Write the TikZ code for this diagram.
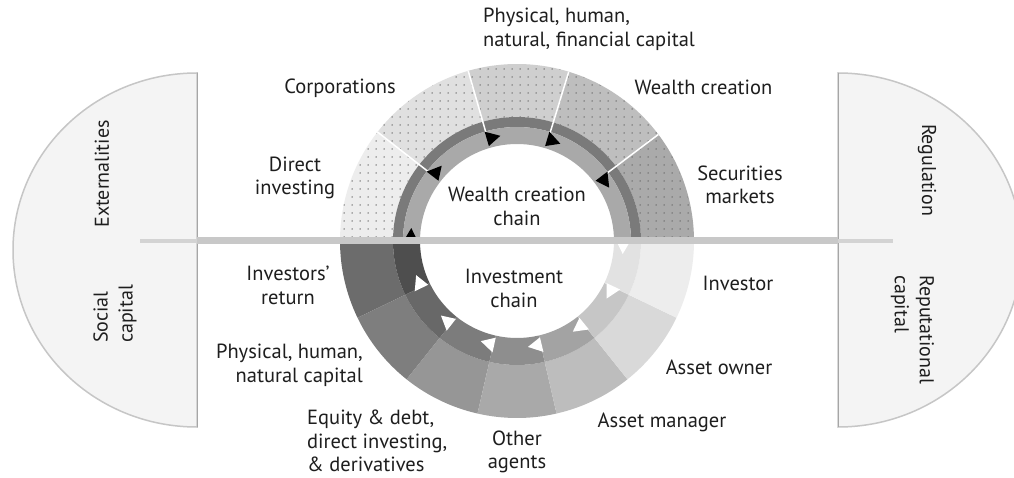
\documentclass[tikz,border=0pt]{standalone}
\usepackage{fontspec}
\setmainfont{PT Sans}
\usetikzlibrary{patterns.meta}
\definecolor{txt}{HTML}{1E1E1E}
\definecolor{sidefill}{HTML}{F4F4F4}
\definecolor{sideline}{HTML}{C6C6C6}
\definecolor{barc}{HTML}{C8C8C8}
\definecolor{darkband}{HTML}{7A7A7A}
\definecolor{lightband}{HTML}{A9A9A9}
\definecolor{uA}{HTML}{EDEDED}
\definecolor{uB}{HTML}{E0E0E0}
\definecolor{uC}{HTML}{CFCFCF}
\definecolor{uD}{HTML}{BEBEBE}
\definecolor{uE}{HTML}{AAAAAA}
\definecolor{lA}{HTML}{6C6C6C}
\definecolor{lB}{HTML}{7E7E7E}
\definecolor{lC}{HTML}{969696}
\definecolor{lD}{HTML}{A9A9A9}
\definecolor{lE}{HTML}{BDBDBD}
\definecolor{lF}{HTML}{D9D9D9}
\definecolor{lG}{HTML}{EDEDED}
\definecolor{bA}{HTML}{4E4E4E}
\definecolor{bB}{HTML}{686868}
\definecolor{bC}{HTML}{7C7C7C}
\definecolor{bD}{HTML}{8E8E8E}
\definecolor{bE}{HTML}{A3A3A3}
\definecolor{bF}{HTML}{C6C6C6}
\definecolor{bG}{HTML}{E2E2E2}
\newcommand{\ringseg}[5]{\path[#1] (#2:#5) arc[start angle=#2,end angle=#3,radius=#5] -- (#3:#4) arc[start angle=#3,end angle=#2,radius=#4] -- cycle;}
\newcommand{\ringarrow}[2]{\fill[#1] ({#2+0.5}:99) -- ({#2+0.5}:114) -- ({#2-7}:106.5) -- cycle;}
\begin{document}
\begin{tikzpicture}[x=1pt,y=1pt,
  lbl/.style={font=\fontsize{20.5}{23.5}\selectfont, text=txt, inner sep=0pt, align=center},
  slbl/.style={font=\fontsize{20}{25}\selectfont, text=txt, inner sep=0pt, align=center},
  sideshape/.style={fill=sidefill, draw=sideline, line width=1.5pt},
  dotseg/.style={fill=#1, postaction={pattern={Dots[distance=8pt,radius=0.75pt]}, pattern color=black!60}},
  plainseg/.style={fill=#1},
  sepline/.style={draw=white, line width=1.5pt}]
\useasboundingbox (0,0) rectangle (1014,477);
\fill[white] (0,0) rectangle (1014,477);

% side half-discs
\path[sideshape] (197,404) arc[start angle=90,end angle=270,x radius=184,y radius=177] -- cycle;
\path[sideshape] (838,404) arc[start angle=90,end angle=-90,x radius=184,y radius=177] -- cycle;
\draw[black!35, line width=0.8pt] (197,404) -- (197,50);
\draw[black!35, line width=0.8pt] (838,404) -- (838,50);

% ring
\begin{scope}[shift={(517,236)}]
  % upper half outer segments
  \ringseg{dotseg=uA}{142}{180}{124}{177}
  \ringseg{dotseg=uB}{106}{142}{124}{177}
  \ringseg{dotseg=uC}{73}{106}{124}{177}
  \ringseg{dotseg=uD}{37}{73}{124}{177}
  \ringseg{dotseg=uE}{0}{37}{124}{177}
  % upper band
  \ringseg{plainseg=darkband}{0}{180}{114}{124}
  \ringseg{plainseg=lightband}{0}{180}{97}{114}
  \foreach \a in {142,106,73,37} {\draw[sepline] (\a:110) -- (\a:177);}
  % lower half outer segments
  \ringseg{plainseg=lA}{180}{205.7}{124}{177}
  \ringseg{plainseg=lB}{205.7}{231.4}{124}{177}
  \ringseg{plainseg=lC}{231.4}{257.1}{124}{177}
  \ringseg{plainseg=lD}{257.1}{282.9}{124}{177}
  \ringseg{plainseg=lE}{282.9}{308.6}{124}{177}
  \ringseg{plainseg=lF}{308.6}{334.3}{124}{177}
  \ringseg{plainseg=lG}{334.3}{360}{124}{177}
  % lower band
  \ringseg{plainseg=bA}{180}{205.7}{97}{124}
  \ringseg{plainseg=bB}{205.7}{231.4}{97}{124}
  \ringseg{plainseg=bC}{231.4}{257.1}{97}{124}
  \ringseg{plainseg=bD}{257.1}{282.9}{97}{124}
  \ringseg{plainseg=bE}{282.9}{308.6}{97}{124}
  \ringseg{plainseg=bF}{308.6}{334.3}{97}{124}
  \ringseg{plainseg=bG}{334.3}{360}{97}{124}
  % arrows (clockwise)
  \foreach \a in {180,142,106,73,37} {\ringarrow{black}{\a}}
  \foreach \a in {205.7,231.4,257.1,282.9,308.6,334.3,360} {\ringarrow{white}{\a}}
\end{scope}

% horizontal bar
\fill[barc!80] (140,234) rectangle (893,238);
\fill[barc] (197,232.5) rectangle (838,239.5);

% labels
\node[lbl, anchor=west, align=left] (phys) at (483,447.5) {Physical, human,\\natural, financial capital};
\node[lbl] (corp) at (340,389) {Corporations};
\node[lbl] (direct) at (295,299) {Direct\\investing};
\node[lbl] (wealth) at (703.5,390) {Wealth creation};
\node[lbl] (sec) at (740,292) {Securities\\markets};
\node[lbl] (wcc) at (517,270.5) {Wealth creation\\chain};
\node[lbl] (ic) at (514,188.5) {Investment\\chain};
\node[lbl] (ret) at (288,191.5) {Investors’\\return};
\node[lbl, anchor=east, align=right] (physlow) at (363,111.5) {Physical, human,\\natural capital};
\node[lbl, anchor=west, align=left] (equity) at (307,36) {Equity \& debt,\\direct investing,\\\& derivatives};
\node[lbl] (other) at (517,25) {Other\\agents};
\node[lbl] (am) at (662,55) {Asset manager};
\node[lbl] (ao) at (719,110) {Asset owner};
\node[lbl] (inv) at (738,194) {Investor};

% side labels
\node[slbl, rotate=90] (ext) at (102,303) {Externalities};
\node[slbl, rotate=90, anchor=west, align=left] (soc) at (115,134) {Social\\capital};
\node[slbl, rotate=-90] (reg) at (927,307) {Regulation};
\node[slbl, rotate=-90, anchor=west, align=left] (rep) at (912.5,202) {Reputational\\capital};
\end{tikzpicture}
\end{document}
